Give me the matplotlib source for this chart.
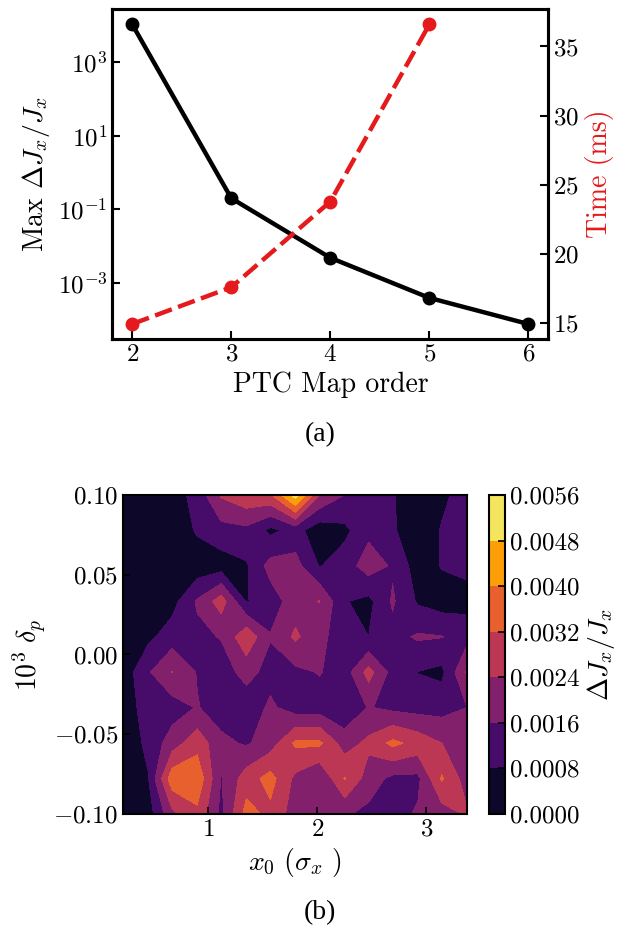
import numpy as np
import matplotlib
matplotlib.use('Agg')
import matplotlib.pyplot as plt

plt.rcParams['font.family'] = 'cmr10'
plt.rcParams['mathtext.fontset'] = 'cm'
plt.rcParams['axes.formatter.use_mathtext'] = True

# Panel (a): accuracy and timing against PTC map order
orders = [2, 3, 4, 5, 6]
max_dj = [1.07e4, 0.2, 4.8e-3, 3.9e-4, 7.6e-5]
time_orders = [2, 3, 4, 5]
time_ms = [14.93, 17.59, 23.78, 36.6]

# Panel (b): scan of dJx/Jx over x0 and delta_p
x0 = [0.22, 0.45, 0.67, 0.90, 1.12, 1.35, 1.57, 1.80, 2.02, 2.25, 2.47, 2.69, 2.92, 3.14, 3.37]
delta_p = [-0.1, -0.0778, -0.0556, -0.0333, -0.0111, 0.0111, 0.0333, 0.0556, 0.0778, 0.1]
# rows follow delta_p (bottom to top), values in units of 1e-4
dj_e4 = [
    [1, 4, 22, 30, 14, 35, 30, 20, 18, 17, 14, 13, 17, 20, 25],
    [1, 7.5, 37, 38, 15.5, 28, 35, 22, 15.8, 32.5, 20, 14, 14, 33, 20],
    [2, 10, 20, 29, 18, 15, 20, 33.5, 33.5, 20, 26, 34, 29, 24, 19],
    [3, 12, 12, 16.5, 12, 11, 17.5, 12, 12, 10, 16.5, 14, 13, 13, 16],
    [3, 15, 24.2, 15.5, 12, 19, 13, 14, 16.5, 12, 27, 13, 7.8, 6, 25],
    [2, 6, 12, 14, 16.5, 30, 16.5, 25.5, 18, 12, 8, 13.5, 17, 16.3, 13],
    [1, 3, 5, 17, 28, 7.5, 12, 20, 24.3, 8.5, 5.7, 17, 7, 4, 5],
    [0, 0, 1, 3, 4, 7, 19, 19, 7.5, 12, 20, 15, 4, 8.5, 10],
    [1, 1, 2, 9, 13, 14, 6, 11, 3, 6, 14, 9, 3, 8.5, 11],
    [2, 2, 4, 11, 25, 30, 31, 52, 24, 16, 12, 8.5, 3, 6.5, 11],
]
levels = [0.0, 0.0008, 0.0016, 0.0024, 0.0032, 0.0040, 0.0048, 0.0056]

red = '#e41a1c'

fig = plt.figure(figsize=(6.23, 9.26), dpi=100)

# ---- (a)
ax1 = fig.add_axes([0.1804, 0.6339, 0.6996, 0.356])
ax1.semilogy(orders, max_dj, '-o', color='k', lw=3.2, ms=9)
ax1.set_yticks([1e-3, 1e-1, 1e1, 1e3])
ax1.minorticks_off()
ax1.set_xticks(orders)
ax1.set_xlabel('PTC Map order', fontsize=20)
ax1.set_ylabel(r'Max $\Delta J_x/J_x$', fontsize=20)
ax1.tick_params(direction='in', length=6, width=1.5, labelsize=18)

ax2 = ax1.twinx()
ax2.plot(time_orders, time_ms, '--o', color=red, lw=3.2, ms=9, dashes=(4, 1.5))
ax2.set_yticks([15, 20, 25, 30, 35])
ax2.set_ylabel('Time (ms)', color=red, fontsize=20)
ax2.tick_params(direction='in', length=6, width=1.5, labelsize=18)
for ax in (ax1, ax2):
    for s in ax.spines.values():
        s.set_linewidth(2.2)

fig.text(320 / 623, 1 - 435 / 926, '(a)', family='Liberation Serif', fontsize=20,
         ha='center', va='center')

# ---- (b)
ax3 = fig.add_axes([0.1974, 0.1210, 0.552, 0.3445])
cf = ax3.contourf(x0, delta_p, np.array(dj_e4) * 1e-4, levels=levels, cmap='inferno')
ax3.set_xticks([1, 2, 3])
ax3.set_yticks([-0.1, -0.05, 0.0, 0.05, 0.1])
ax3.set_xlabel(r'$x_0\ (\sigma_x\ )$', fontsize=20)
ax3.set_ylabel(r'$10^3\ \delta_p$', fontsize=20)
ax3.tick_params(direction='in', length=5, width=1.2, labelsize=18)
for s in ax3.spines.values():
    s.set_linewidth(1.5)

cax = fig.add_axes([0.7844, 0.1210, 0.0268, 0.3445])
cb = fig.colorbar(cf, cax=cax, ticks=levels, format='%.4f')
cb.set_label(r'$\Delta J_x/J_x$', fontsize=20)
cb.ax.tick_params(direction='in', length=5, width=1.2, labelsize=18)
cb.outline.set_linewidth(1.5)

fig.text(320 / 623, 1 - 913 / 926, '(b)', family='Liberation Serif', fontsize=20,
         ha='center', va='center')

fig.savefig('out.png', dpi=100)
